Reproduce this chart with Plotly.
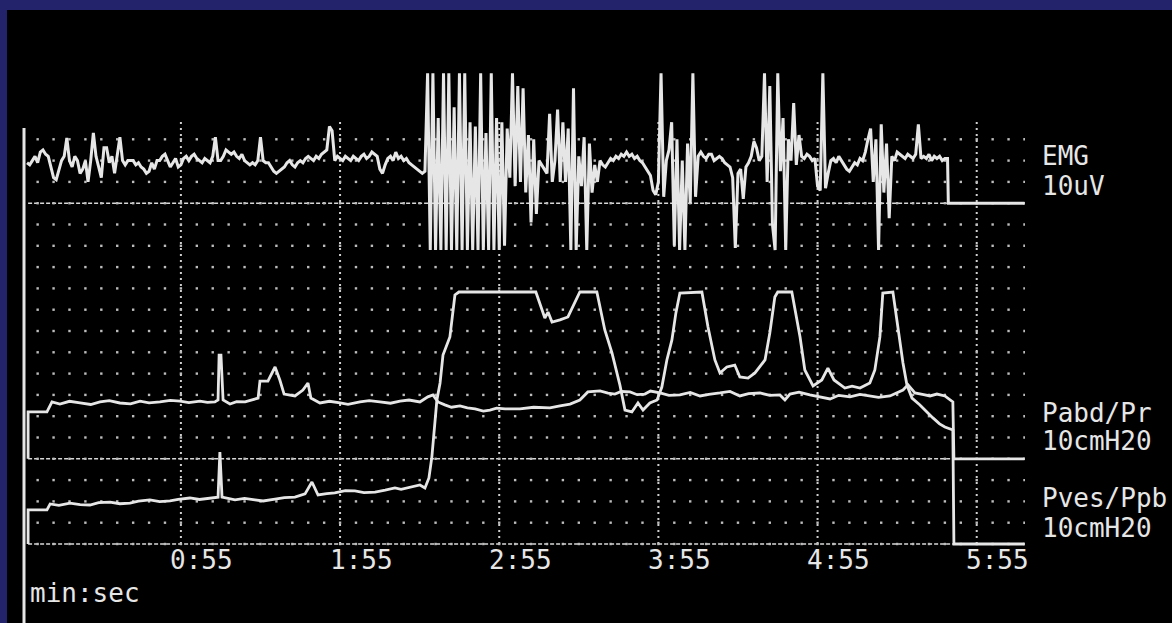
import numpy as np
import plotly.graph_objects as go

# ---------------- data ----------------
tick_times = [55, 115, 175, 235, 295, 355]          # seconds
tick_labels = ["0:55", "1:55", "2:55", "3:55", "4:55", "5:55"]

# EMG (uV), one reading per second starting at t = -3 s
emg_start = -3
emg_values = [
    19, 18, 20, 22, 19, 24, 25, 23, 22, 16.5,
    12, 11, 15.6, 20, 22, 30.6, 20, 17, 22, 20,
    14, 16, 20, 10, 20, 33, 22, 17, 12, 26,
    26, 19, 22, 14, 22, 31, 20, 18, 20, 20,
    20, 18, 19, 17, 16, 14, 15, 19, 16, 20,
    20, 22, 23, 20, 17, 19, 21, 17, 18, 21,
    22, 20, 22, 23, 21, 20, 19, 21, 20, 19,
    22, 31, 20, 20, 22, 25, 24, 23, 24, 22,
    21, 23, 20, 19, 18, 19, 18, 20, 31, 20,
    19, 19, 17, 15, 14, 15, 16, 17, 19, 20,
    18, 17, 19, 20, 19, 21, 22, 21, 20, 22,
    21, 23, 24, 25, 36, 34, 20, 22, 21, 20,
    22, 21, 20, 22, 21, 20, 22, 23, 21, 22,
    24, 23, 22, 16, 14, 18, 21, 22, 20, 24,
    21, 22, 20, 21, 19, 18, 17, 16, 15, 14,
    15, 61, -22, 61, -22, 40, -22, 61, -22, 61,
    -22, 45, -22, 61, -22, 61, -22, 38, -22, 36,
    -22, 61, -22, 33, -22, 61, -22, 40, -22, 38,
    -20, 35, 12, 61, 8, 55, 10, 54, 5, 32,
    -9, 30, -5, 20, 18, 16, 14, 42, 10, 20,
    44, 10, 38, 10, 35, -22, 54, -22, 22, 8,
    31, -22, 28, 5, 18, 10, 20, 18, 17, 19,
    21, 20, 22, 21, 23, 22, 24, 22, 23, 21,
    22, 20, 19, 17, 15, 13, 6, 4, 10, 61,
    3, 20, 25, 38, -20, 30, -22, 20, -22, 28,
    0, 61, 3, 22, 24, 22, 21, 23, 23, 20,
    21, 22, 21, 19, 18, 17, 12, -21, 14, 16,
    2, 17, 19, 22, 29, 26, 20, 22, 61, 10,
    55, -10, -22, 61, 15, 40, -22, 30, 20, 47,
    18, 32, 22, 21, 23, 22, 20, 21, 8, 6,
    61, 7, 14, 20, 21, 19, 22, 20, 18, 16,
    15, 17, 19, 18, 21, 20, 24, 30, 35, 10,
    30, -22, 37, 5, 28, -7, 22, 20, 24, 23,
    22, 21, 23, 22, 21, 23, 37, 21, 22, 21,
    23, 20, 22, 21, 22, 20, 21, 21,
]
emg_tail_t = [344.3, 373]
emg_tail_v = [0, 0]

# Pabd / Pr (cmH2O)
pabd_t = [-2.6, -2.6, 4.5, 6.4, 9.4, 13, 17, 21, 24.5, 28, 32, 36, 39.6, 43, 47.1, 51, 54.7, 58,
          62.2, 65, 67.8, 69, 69.4, 70.1,
          70.9, 73.5, 76, 79.2, 84.1, 84.8, 87.8, 90.5, 92.3, 93.9, 98, 101, 102.9, 104, 107.4,
          111, 115, 118, 122.5, 126, 130, 134, 137.6, 141, 145.1, 148.1, 150, 151.9, 154.5, 157,
          160.2, 163, 165.9, 169, 171.5, 174, 177.2,
          182.8, 188, 194.1, 197.9, 201.7, 205.4, 208.4, 213, 216, 218.6, 221, 224.3, 227,
          229.9, 232, 235.6, 239, 243.1, 247, 250.7, 254, 258.2, 262, 265.7, 269, 273.3, 277,
          280.8, 282.7, 284.6, 288, 292.1, 296, 299.7, 303, 307.2, 311, 314.7, 318, 322.3,
          325, 327.2, 329.1, 331.7, 335, 337.4, 340, 343, 346, 346.4, 373]
pabd_v = [0, 22, 22, 26.7, 25.7, 27, 26.2, 25.5, 26.7, 27.3, 26.2, 25.8, 27.1, 26.3, 26.7, 27.4,
          27.1, 26.4, 27.1, 26.5, 26.7, 27.6, 48.7, 48.7,
          27.6, 25.7, 26.8, 26.7, 28.5, 36.5, 36.5, 43.1, 37, 30.4, 29.5, 32.3, 35.6, 28.5, 26.2,
          27, 26.2, 25.6, 26.7, 27.3, 26.7, 26.1, 27.1, 27.6, 26.7, 29.1, 30, 26.7, 25.3, 24.2,
          24.8, 23.9, 23.4, 22.4, 22.9, 23.8, 23.4,
          23.4, 24.2, 23.9, 24.8, 25.7, 27.6, 31.4, 31.9, 30.8, 30.4, 31.6, 31.4, 30.1,
          30.4, 31.8, 30.9, 29.8, 30, 31.2, 29.5, 30.3, 30.9, 31.6, 29.5, 30.6, 30.9, 29.8,
          30, 27.6, 30.4, 31.3, 30, 29.2, 28.1, 29.8, 29.1, 30.2, 29.5, 28.8, 29.5,
          31, 32.3, 34.7, 30.9, 30.1, 29.5, 30.4, 29.5, 26.7, 0, 0]

# Pves / Ppb (cmH2O)
pves_t = [-2.6, -2.6, 4.5, 5.7, 9, 13.2, 17, 20.7, 24, 28.3, 32, 35.8, 39, 43.3, 47, 50.9, 54,
          58.4, 62, 66, 69, 69.7, 70.5,
          75.4, 79, 82.9, 86, 90.5, 94, 98, 101.8, 104.4, 106.7, 110, 113, 117, 120.6, 124,
          128.2, 132, 135.7, 138, 141.3, 145.1,
          147, 148.5, 149.6, 151.5, 152.7, 153.8, 156.4, 158.3, 159.8, 188.8, 192.2, 193.4,
          194.9, 197.9, 200.9, 203.5, 205.4, 211.8, 214.8, 217.5, 220.5, 222.4, 225, 227.3,
          229.2, 231.8, 234.5, 236.3, 238.2, 240.1, 241.6, 243.1, 251.4, 253.7, 256.3, 258.2,
          260.8, 263.8, 265.7, 268.8, 271.4, 275.2, 277, 278.9, 280, 285.3, 288.4, 290.2,
          293.3, 296.6, 298.9, 301.2, 305.3, 308, 311, 314.7, 316.6, 318.5, 319.6, 323.4, 324.9,
          327.2, 328.7, 330.6, 333.6, 336, 338.5, 341, 343, 346, 346.4, 373]
pves_v = [0, 16, 16, 18.8, 18.1, 19.2, 18.5, 18.3, 19.4, 19.7, 18.9, 19.2, 20.1, 20.7, 19.9, 20.2,
          21, 21.6, 20.9, 21.6, 22, 43.2, 22,
          20.7, 21.4, 20.7, 20.2, 21.1, 21.8, 22, 23.5, 29.1, 23, 23.6, 24, 25.1, 24.9, 24.1,
          24.4, 25.3, 26.3, 25.7, 26.8, 27.7,
          26.3, 31, 40.8, 67.6, 75.6, 88.7, 97.2, 116.9, 118.3, 118.3, 106.1, 108.9,
          104.2, 105.2, 106.6, 113.1, 118.3, 118.3, 100.5, 89.7, 74.6, 62.9, 62, 66.2,
          62.9, 66.2, 67.6, 73.7, 86.4, 95.8, 108.5, 117.8, 118.3, 101.9, 86.4, 80.3,
          83.1, 84, 78.4, 77.9, 80.3, 86.4, 99.1, 116, 118.3, 118.3, 97.2, 81.7,
          74.2, 77, 82.6, 77, 73.2, 74.1, 73.2, 75.6, 81.7, 97.2, 117.8, 118.3, 105.2,
          85, 74.6, 68.5, 65.3, 62.1, 59.2, 56.4, 54.9, 53.5, 0, 0]

# ---------------- figure ----------------
W, H = 1172, 623
ML, MR, MT, MB = 22, 147, 60, 63
PW, PH = W - ML - MR, H - MT - MB
DIV = 21.3                      # pixels per grid division (10 units)
ROW0 = 544                      # pixel row of the Pves zero line
d_top = (ROW0 - MT) / DIV
d_bot = (ROW0 - (H - MB)) / DIV

def px_x(px):
    return (px - ML) / PW

def px_y(py):
    return ((H - MB) - py) / PH

FG = "#e6e6e6"
NAVY = "#23236b"
FONT = "DejaVu Sans Mono"

fig = go.Figure()

# dot lattice of the recorder grid
grid_t = np.arange(1, 374, 6)
grid_rows = np.arange(0, 20) * 10
gx, gy = np.meshgrid(grid_t, grid_rows)
fig.add_trace(go.Scatter(x=gx.ravel(), y=gy.ravel(), mode="markers",
                         marker=dict(symbol="square", size=2.4, color="#bdbdbd"),
                         hoverinfo="skip", yaxis="y"))

emg_t = np.arange(emg_start, emg_start + len(emg_values))
fig.add_trace(go.Scatter(x=list(emg_t) + emg_tail_t, y=emg_values + emg_tail_v,
                         mode="lines", line=dict(color=FG, width=3), yaxis="y3"))
fig.add_trace(go.Scatter(x=pabd_t, y=pabd_v, mode="lines",
                         line=dict(color=FG, width=2.8), yaxis="y2"))
fig.add_trace(go.Scatter(x=pves_t, y=pves_v, mode="lines",
                         line=dict(color=FG, width=2.8), yaxis="y"))

shapes = []
# minute grid lines (dotted)
for tt in tick_times:
    shapes.append(dict(type="line", xref="x", yref="y", x0=tt, x1=tt, y0=0, y1=200,
                       line=dict(color="#cfcfcf", width=2, dash="2px,4px"), layer="below"))
# zero lines of the three channels
for yr in ["y", "y2", "y3"]:
    shapes.append(dict(type="line", xref="x", yref=yr, x0=-2.6, x1=373, y0=0, y1=0,
                       line=dict(color="#d8d8d8", width=1.6, dash="4px,2px"), layer="below"))
# left border line
shapes.append(dict(type="line", xref="paper", yref="paper", x0=px_x(24), x1=px_x(24),
                   y0=px_y(H), y1=px_y(128), line=dict(color=FG, width=3)))
# navy frame strips
shapes.append(dict(type="rect", xref="paper", yref="paper", x0=px_x(0), x1=px_x(7),
                   y0=px_y(H), y1=px_y(0), fillcolor=NAVY, line=dict(width=0)))
shapes.append(dict(type="rect", xref="paper", yref="paper", x0=px_x(0), x1=px_x(W),
                   y0=px_y(10), y1=px_y(0), fillcolor=NAVY, line=dict(width=0)))

annotations = []
for tt, lab in zip(tick_times, tick_labels):
    annotations.append(dict(x=tt, y=px_y(560), xref="x", yref="paper", text=lab,
                            xshift=21, showarrow=False, xanchor="center", yanchor="middle",
                            font=dict(family=FONT, size=26, color=FG)))
annotations.append(dict(x=px_x(28), y=px_y(593), xref="paper", yref="paper", text="min:sec",
                        showarrow=False, xanchor="left", yanchor="middle",
                        font=dict(family=FONT, size=26, color=FG)))
side_labels = [("EMG", 156), ("10uV", 186), ("Pabd/Pr", 413), ("10cmH20", 441),
               ("Pves/Ppb", 498), ("10cmH20", 528)]
for txt, py in side_labels:
    annotations.append(dict(x=px_x(1040), y=px_y(py), xref="paper", yref="paper", text=txt,
                            showarrow=False, xanchor="left", yanchor="middle",
                            font=dict(family=FONT, size=26, color=FG)))

fig.update_layout(
    width=W, height=H, autosize=False,
    margin=dict(l=ML, r=MR, t=MT, b=MB, pad=0),
    paper_bgcolor="black", plot_bgcolor="black",
    showlegend=False,
    xaxis=dict(range=[-4.9, 373.2], visible=False, showgrid=False, zeroline=False),
    yaxis=dict(range=[d_bot * 10, d_top * 10], visible=False, showgrid=False, zeroline=False),
    yaxis2=dict(range=[(d_bot - 4) * 10, (d_top - 4) * 10], overlaying="y", visible=False,
                showgrid=False, zeroline=False),
    yaxis3=dict(range=[(d_bot - 16) * 10, (d_top - 16) * 10], overlaying="y", visible=False,
                showgrid=False, zeroline=False),
    shapes=shapes,
    annotations=annotations,
)

fig.write_html(
    "out.html",
    config={"displayModeBar": False},
    post_script="document.body.style.margin='0';document.body.style.overflow='hidden';"
                "document.body.style.background='black';",
)
